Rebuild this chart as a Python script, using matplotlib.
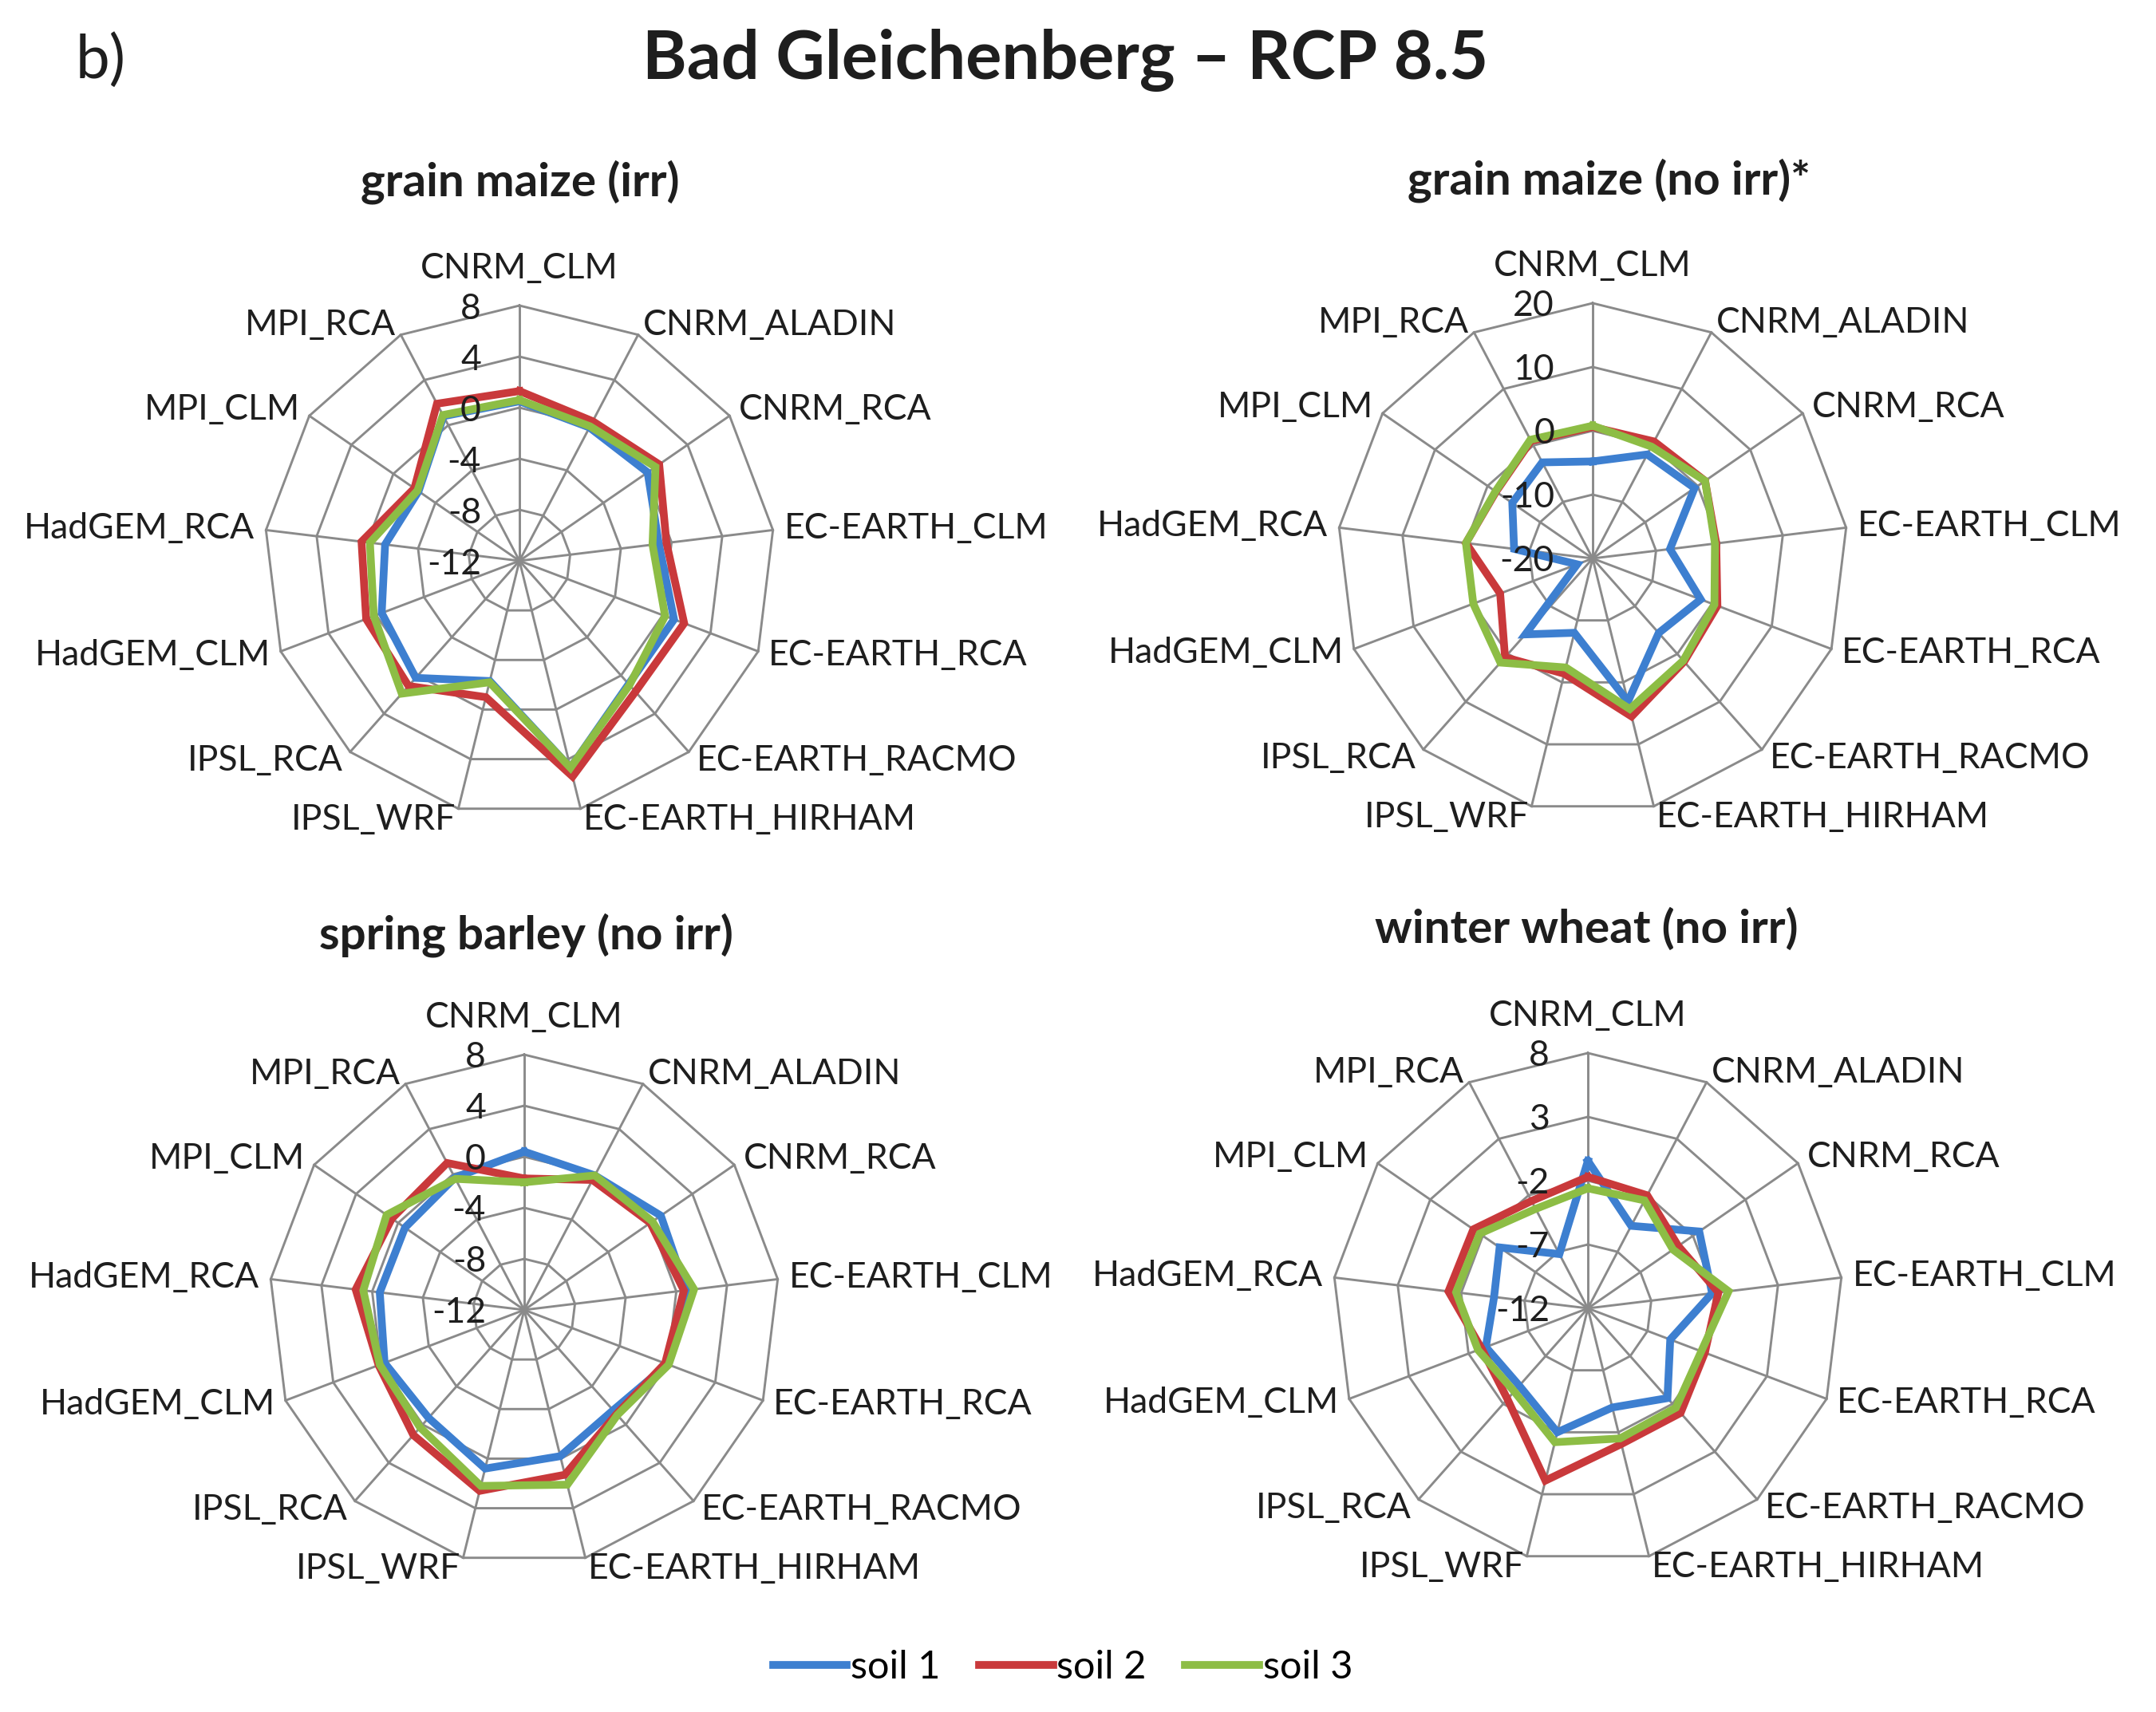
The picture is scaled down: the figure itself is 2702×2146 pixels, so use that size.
import numpy as np
import matplotlib.pyplot as plt
from matplotlib.lines import Line2D

plt.rcParams['font.family'] = ['Lato', 'DejaVu Sans']

W, H = 2702, 2146

categories = ['CNRM_CLM', 'CNRM_ALADIN', 'CNRM_RCA', 'EC-EARTH_CLM', 'EC-EARTH_RCA',
              'EC-EARTH_RACMO', 'EC-EARTH_HIRHAM', 'IPSL_WRF', 'IPSL_RCA',
              'HadGEM_CLM', 'HadGEM_RCA', 'MPI_CLM', 'MPI_RCA']
series_names = ['soil 1', 'soil 2', 'soil 3']

# grain maize (irr)
maize_irr_s1 = [0.5, -0.2, 0.2, -1.0, 0.95, 0.9, 4.7, -2.3, 0.25, -0.46, -1.4, -2.4, 0.8]
maize_irr_s2 = [1.3, 0.35, 1.3, -0.4, 1.8, 1.7, 5.4, -1.0, 1.1, 0.84, 0.46, -2.0, 1.9]
maize_irr_s3 = [0.6, -0.1, 0.95, -1.5, 0.2, 1.0, 4.7, -2.2, 1.9, 0.2, -0.2, -2.3, 0.9]

# grain maize (no irr)*
maize_noirr_s1 = [-4.8, -1.6, -0.6, -7.8, -1.9, -4.4, 3.1, -8.0, -4.1, -17.4, -7.6, -4.7, -3.0]
maize_noirr_s2 = [0.6, 0.7, 1.4, -0.5, 0.9, 1.6, 5.5, -1.4, 0.7, -4.5, 0.0, -1.6, 0.8]
maize_noirr_s3 = [0.8, -0.2, 1.4, -0.7, 0.4, 1.4, 4.3, -2.4, 1.8, 0.0, 0.0, -1.5, 1.0]

# spring barley (no irr)
barley_s1 = [0.4, -0.1, 1.0, 0.8, 0.0, -1.5, -0.2, 0.8, -0.7, -0.3, -0.6, -0.65, -0.3]
barley_s2 = [-1.7, -0.5, 0.0, 0.6, -0.2, -1.1, 1.3, 2.6, 1.1, 0.2, 1.3, 0.6, 1.0]
barley_s3 = [-2.0, -0.1, 0.2, 1.4, 0.1, -1.0, 2.1, 2.2, 0.3, 0.1, 0.7, 1.1, -0.4]

# winter wheat (no irr)
wheat_s1 = [-0.45, -4.7, -1.4, -2.2, -5.1, -2.6, -4.0, -2.0, -3.9, -3.45, -4.6, -3.6, -7.2]
wheat_s2 = [-1.7, -2.0, -3.4, -1.7, -2.2, -1.05, -1.05, 1.9, -2.5, -3.1, -1.0, -1.1, -2.5]
wheat_s3 = [-2.6, -2.45, -3.9, -0.9, -2.5, -1.6, -1.5, -1.2, -3.3, -2.8, -1.6, -1.7, -3.2]

colors = ['#3d7fd0', '#c9393b', '#8dbd45']
grid_col = '#8a8a8a'
txt_col = '#1e1e1e'

fig = plt.figure(figsize=(W / 100, H / 100), dpi=100)

angles = np.linspace(0, 2 * np.pi, len(categories), endpoint=False)
closed = np.append(angles, angles[0])


def radar(cx, cy, R, rings, data, title, tx, ty):
    ax = fig.add_axes([(cx - R) / W, (H - cy - R) / H, 2 * R / W, 2 * R / H],
                      projection='polar')
    ax.set_theta_zero_location('N')
    ax.set_theta_direction(-1)
    ax.set_ylim(rings[0], rings[-1])
    ax.grid(False)
    ax.set_xticks([])
    ax.set_yticks([])
    ax.spines['polar'].set_visible(False)
    ax.patch.set_alpha(0)

    # polygon grid
    for r in rings[1:]:
        ax.plot(closed, [r] * len(closed), color=grid_col, lw=2.1, zorder=1, clip_on=False)
    for a in angles:
        ax.plot([a, a], [rings[0], rings[-1]], color=grid_col, lw=2.1, zorder=1, clip_on=False)

    for vals, c in zip(data, colors):
        ax.plot(closed, vals + vals[:1], color=c, lw=7, zorder=3, clip_on=False,
                solid_joinstyle='miter')

    for r in rings:
        ax.annotate(str(r), xy=(0, r), xytext=(-48, -4), textcoords='offset pixels',
                    ha='right', va='center', fontsize=32, color=txt_col, zorder=4)

    for a, name in zip(angles, categories):
        sx, sy = np.sin(a), np.cos(a)
        if abs(sx) < 0.01:
            ax.annotate(name, xy=(a, rings[-1]), xytext=(0, 34), textcoords='offset pixels',
                        ha='center', va='baseline', fontsize=32, color=txt_col,
                        annotation_clip=False)
        else:
            ax.annotate(name, xy=(a, rings[-1]), xytext=(14 * sx, 14 * sy),
                        textcoords='offset pixels', ha='left' if sx > 0 else 'right',
                        va='center', fontsize=32, color=txt_col, annotation_clip=False)

    fig.text(tx / W, 1 - ty / H, title, ha='center', va='baseline',
             fontsize=42, fontweight='bold', color=txt_col)


radar(651, 703, 320, [-12, -8, -4, 0, 4, 8],
      [maize_irr_s1, maize_irr_s2, maize_irr_s3], 'grain maize (irr)', 652, 246)
radar(1996, 700, 320, [-20, -10, 0, 10, 20],
      [maize_noirr_s1, maize_noirr_s2, maize_noirr_s3], 'grain maize (no irr)*', 2016, 243)
radar(657, 1642, 320, [-12, -8, -4, 0, 4, 8],
      [barley_s1, barley_s2, barley_s3], 'spring barley (no irr)', 659, 1189)
radar(1990, 1640, 320, [-12, -7, -2, 3, 8],
      [wheat_s1, wheat_s2, wheat_s3], 'winter wheat (no irr)', 1988, 1182)

fig.text(1335 / W, 1 - 98 / H, 'Bad Gleichenberg \u2013 RCP 8.5', ha='center', va='baseline',
         fontsize=61, fontweight='bold', color=txt_col)
fig.text(95 / W, 1 - 98 / H, 'b)', ha='left', va='baseline', fontsize=55, color=txt_col)

handles = [Line2D([], [], color=c, lw=7) for c in colors]
fig.legend(handles, series_names, loc='center', bbox_to_anchor=(1332 / W, 1 - 2090 / H),
           ncol=3, frameon=False, fontsize=35, handlelength=1.9, handletextpad=0.1,
           columnspacing=1.0)

fig.savefig('out.png', dpi=100)
